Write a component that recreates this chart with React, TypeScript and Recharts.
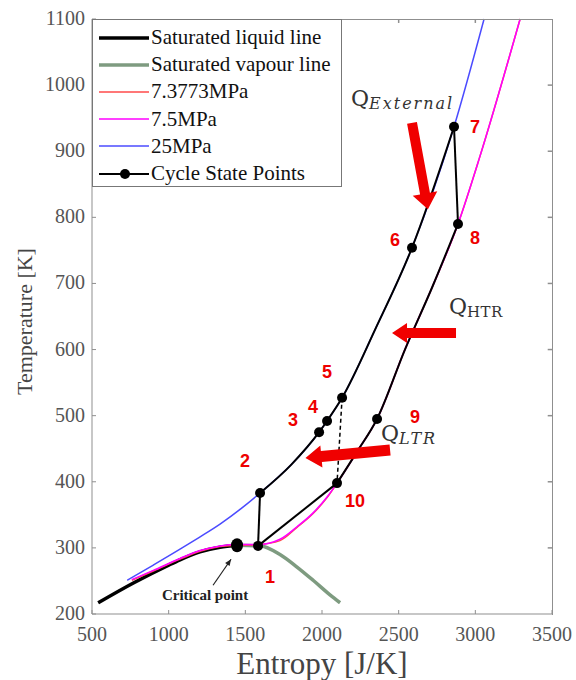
import React from 'react';
import { ComposedChart, Line, Scatter, XAxis, YAxis } from 'recharts';

const entropyTicks = [500, 1000, 1500, 2000, 2500, 3000, 3500];
const tempTicks = [200, 300, 400, 500, 600, 700, 800, 900, 1000, 1100];

// [entropy J/K, temperature K]
const satLiquidRows = [
  [540, 217], [770, 247], [1000, 274], [1074, 282], [1204, 294], [1335, 301], [1446, 304],
];
const satVapourRows = [
  [1446, 304], [1600, 303], [1726, 290], [1837, 271], [1942, 251], [2052, 229], [2118, 217],
];
const p7377Rows = [
  [760, 251], [900, 265], [1074, 283], [1204, 295], [1335, 302], [1446, 304], [1583, 305],
  [1726, 311], [1837, 331], [1942, 352], [2033, 376], [2098, 398], [2230, 446], [2359, 495],
  [2541, 600], [2720, 695], [2887, 790], [3031, 893], [3292, 1100],
];
const p75Rows = [
  [760, 252], [900, 266], [1074, 284], [1204, 296], [1335, 303], [1446, 305], [1583, 305],
  [1726, 313], [1837, 332], [1942, 353], [2033, 377], [2098, 398], [2230, 446], [2359, 495],
  [2541, 600], [2720, 695], [2887, 790], [3031, 893], [3292, 1100],
];
const p25Rows = [
  [730, 251], [900, 274], [1074, 298], [1200, 316], [1335, 336], [1470, 359], [1596, 383],
  [1800, 426], [1981, 475], [2033, 492], [2131, 527], [2350, 632], [2587, 754], [2861, 937],
  [3057, 1100],
];

const stateIds = ['1', '2', '3', '4', '5', '6', '7', '8', '9', '10'];
const stateS = [1583, 1596, 1981, 2033, 2131, 2587, 2861, 2887, 2359, 2098];
const stateT = [303, 383, 475, 492, 527, 754, 937, 790, 495, 398];
const criticalPoint = [{ s: 1446, T: 304 }];

const toPts = (rows: number[][]) => rows.map(([s, T]) => ({ s, T }));
const satLiquid = toPts(satLiquidRows);
const satVapour = toPts(satVapourRows);
const p7377 = toPts(p7377Rows);
const p75 = toPts(p75Rows);
const p25 = toPts(p25Rows);
const states = stateIds.map((id, i) => ({ id, s: stateS[i], T: stateT[i] }));
const st = (id: string) => states.find(p => p.id === id)!;

const highBranch = p25.filter(p => p.s >= st('2').s && p.s <= st('7').s);
const lowBranch = p75.filter(p => p.s >= st('10').s && p.s <= st('8').s);
const seg12 = [st('1'), st('2')];
const seg78 = [st('7'), st('8')];
const seg101 = [st('10'), st('1')];
const dash510 = [st('5'), st('10')];

const xMin = entropyTicks[0], xMax = entropyTicks[entropyTicks.length - 1];
const yMin = tempTicks[0], yMax = tempTicks[tempTicks.length - 1];

// short inward ticks on the top and right edges of the box
const topTicks = entropyTicks.slice(1, -1).map(s => [{ s, T: yMax }, { s, T: yMax - 6 }]);
const rightTicks = tempTicks.slice(1, -1).map(T => [{ s: xMax, T }, { s: xMax - 28, T }]);

// label offsets in px from each state point
const labelOffsets: Record<string, [number, number]> = {
  '1': [12, 31], '2': [-15, -32], '3': [-26, -12], '4': [-14, -14], '5': [-15, -26],
  '6': [-17, -8], '7': [21, 0], '8': [17, 14], '9': [38, -2], '10': [18, 18],
};

// heat arrows: tail position in data units, direction/size in px
const heatArrows = [
  { s: 2587, T: 943, angle: 79.6, len: 88, w: 10, hw: 25, hl: 16 },
  { s: 2874, T: 625, angle: 180, len: 64, w: 10, hw: 20, hl: 15 },
  { s: 2444, T: 448, angle: 174.6, len: 85, w: 11, hw: 22, hl: 16 },
];
const heatLabels = [
  { s: 2189, T: 968, sub: 'External', italic: true },
  { s: 2828, T: 654, sub: 'HTR', italic: false },
  { s: 2385, T: 462, sub: 'LTR', italic: true },
];

const serif = '"Liberation Serif", "Times New Roman", Times, serif';
const axisColor = '#8f8f8f';

const StateDot = (props: any) => {
  const { cx, cy, payload } = props;
  const [dx, dy] = labelOffsets[payload.id] ?? [0, 0];
  return (
    <g>
      <circle cx={cx} cy={cy} r={5} fill="#000" />
      <text x={cx + dx} y={cy + dy} textAnchor="middle" dominantBaseline="central"
        fill="#ee0000" fontSize={18} fontWeight="bold" fontFamily='"Liberation Sans", Arial, sans-serif'>
        {payload.id}
      </text>
    </g>
  );
};

const CriticalDot = (props: any) => {
  const { cx, cy } = props;
  const x1 = cx - 24, y1 = cy + 40, x2 = cx - 6, y2 = cy + 14;
  const a = Math.atan2(y2 - y1, x2 - x1);
  const h = 7;
  const head = [
    [x2, y2],
    [x2 - h * Math.cos(a - 0.4), y2 - h * Math.sin(a - 0.4)],
    [x2 - h * Math.cos(a + 0.4), y2 - h * Math.sin(a + 0.4)],
  ].map(p => p.join(',')).join(' ');
  return (
    <g>
      <ellipse cx={cx} cy={cy} rx={6} ry={7} fill="#000" />
      <line x1={x1} y1={y1} x2={x2} y2={y2} stroke="#222" strokeWidth={1.2} />
      <polygon points={head} fill="#222" />
      <text x={cx - 32} y={cy + 55} textAnchor="middle" fontSize={15} fontWeight="bold"
        fontFamily={serif} fill="#222">Critical point</text>
    </g>
  );
};

const HeatArrow = (props: any) => {
  const { cx, cy, payload } = props;
  const { angle, len, w, hw, hl } = payload;
  const r = (angle * Math.PI) / 180;
  const ux = Math.cos(r), uy = Math.sin(r);
  const nx = -uy, ny = ux;
  const at = (d: number, o: number) => `${cx + ux * d + nx * o},${cy + uy * d + ny * o}`;
  const pts = [
    at(0, w / 2), at(len - hl, w / 2), at(len - hl, hw / 2), at(len, 0),
    at(len - hl, -hw / 2), at(len - hl, -w / 2), at(0, -w / 2),
  ].join(' ');
  return <polygon points={pts} fill="#f00000" />;
};

const HeatLabel = (props: any) => {
  const { cx, cy, payload } = props;
  return (
    <text x={cx} y={cy} fill="#333">
      <tspan fontSize={22} fontFamily='"DejaVu Serif", serif'>Q</tspan>
      <tspan dy={3} fontSize={payload.italic ? 16 : 15} fontStyle={payload.italic ? 'italic' : 'normal'}
        letterSpacing={payload.italic ? 2 : 0.5} fontFamily='"DejaVu Serif", serif'>{payload.sub}</tspan>
    </text>
  );
};

const XTick = (props: any) => {
  const { x, y, payload } = props;
  return (
    <text x={x} y={y + 14} textAnchor="middle" fill="#555" fontSize={20} fontFamily={serif}>
      {payload.value}
    </text>
  );
};

const YTick = (props: any) => {
  const { x, y, payload } = props;
  return (
    <text x={x} y={y + 6} textAnchor="end" fill="#555" fontSize={20} fontFamily={serif}>
      {payload.value}
    </text>
  );
};

const legendItems = [
  { label: 'Saturated liquid line', color: '#000', width: 3.5, marker: false },
  { label: 'Saturated vapour line', color: '#7e9b80', width: 3.5, marker: false },
  { label: '7.3773MPa', color: '#ff4a4a', width: 1.5, marker: false },
  { label: '7.5MPa', color: '#ff00ff', width: 1.5, marker: false },
  { label: '25MPa', color: '#4b4bff', width: 1.5, marker: false },
  { label: 'Cycle State Points', color: '#000', width: 2, marker: true },
];

const ChartLegend = () => (
  <div style={{
    position: 'absolute', left: 92, top: 19, width: 250, height: 168, boxSizing: 'border-box',
    border: '1px solid #777', background: '#fff', paddingTop: 4,
  }}>
    {legendItems.map(item => (
      <div key={item.label} style={{ height: 27.2, display: 'flex', alignItems: 'center' }}>
        <svg width={58} height={20} style={{ flex: 'none' }}>
          <line x1={6} y1={10} x2={56} y2={10} stroke={item.color} strokeWidth={item.width} />
          {item.marker && <circle cx={32} cy={10} r={5} fill="#000" />}
        </svg>
        <span style={{ fontFamily: serif, fontSize: 21, color: '#111', whiteSpace: 'nowrap' }}>
          {item.label}
        </span>
      </div>
    ))}
  </div>
);

// top and right edges of the plot box (left/bottom come from the axes)
const PlotFrame = () => (
  <div style={{
    position: 'absolute', left: 92, top: 19, width: 461, height: 596, boxSizing: 'border-box',
    borderTop: `1px solid ${axisColor}`, borderRight: `1px solid ${axisColor}`, pointerEvents: 'none',
  }} />
);

const lineProps = { dataKey: 'T', dot: false, isAnimationActive: false, activeDot: false as const };

export default function App() {
  return (
    <div style={{ position: 'absolute', left: 0, top: 0, width: 576, height: 680, background: '#fff', fontFamily: serif }}>
      <ComposedChart width={576} height={680} margin={{ top: 19, right: 24, bottom: 0, left: 0 }}
        style={{ fontFamily: serif }}>
        <XAxis dataKey="s" type="number" domain={[xMin, xMax]} ticks={entropyTicks} interval={0}
          height={66} tickSize={-4} tickMargin={17}
          axisLine={{ stroke: axisColor }} tickLine={{ stroke: axisColor }}
          tick={<XTick />}
          label={{
            content: (p: any) => (
              <text x={p.viewBox.x + p.viewBox.width / 2} y={674} textAnchor="middle"
                fontSize={31} fontFamily={serif} fill="#444">Entropy [J/K]</text>
            ),
          }} />
        <YAxis dataKey="T" type="number" domain={[yMin, yMax]} ticks={tempTicks} interval={0}
          width={92} tickSize={-4} tickMargin={11}
          axisLine={{ stroke: axisColor }} tickLine={{ stroke: axisColor }}
          tick={<YTick />}
          label={{
            content: (p: any) => {
              const cy = p.viewBox.y + p.viewBox.height / 2 + 5;
              return (
                <text x={32} y={cy} transform={`rotate(-90 32 ${cy})`} textAnchor="middle"
                  fontSize={22} fontFamily={serif} fill="#444">Temperature [K]</text>
              );
            },
          }} />

        {topTicks.map((d, i) => (
          <Line key={`tt${i}`} {...lineProps} data={d} type="linear" stroke={axisColor} strokeWidth={1.5} />
        ))}
        {rightTicks.map((d, i) => (
          <Line key={`rt${i}`} {...lineProps} data={d} type="linear" stroke={axisColor} strokeWidth={1.5} />
        ))}

        <Line {...lineProps} data={satLiquid} type="monotone" stroke="#000" strokeWidth={3.5} />
        <Line {...lineProps} data={satVapour} type="monotone" stroke="#7e9b80" strokeWidth={3.5} />
        <Line {...lineProps} data={p7377} type="monotone" stroke="#ff4a4a" strokeWidth={1.5} />
        <Line {...lineProps} data={p75} type="monotone" stroke="#ff00ff" strokeWidth={1.5} />
        <Line {...lineProps} data={p25} type="monotone" stroke="#4b4bff" strokeWidth={1.5} />

        <Line {...lineProps} data={highBranch} type="monotone" stroke="#000" strokeWidth={2} />
        <Line {...lineProps} data={lowBranch} type="monotone" stroke="#000" strokeWidth={2} />
        <Line {...lineProps} data={seg12} type="linear" stroke="#000" strokeWidth={2} />
        <Line {...lineProps} data={seg78} type="linear" stroke="#000" strokeWidth={2} />
        <Line {...lineProps} data={seg101} type="linear" stroke="#000" strokeWidth={2} />
        <Line {...lineProps} data={dash510} type="linear" stroke="#000" strokeWidth={1.5} strokeDasharray="4 3" />

        <Scatter data={heatArrows} shape={HeatArrow} isAnimationActive={false} />
        <Scatter data={heatLabels} shape={HeatLabel} isAnimationActive={false} />
        <Scatter data={criticalPoint} shape={CriticalDot} isAnimationActive={false} />
        <Scatter data={states} shape={StateDot} isAnimationActive={false} />
      </ComposedChart>
      <PlotFrame />
      <ChartLegend />
    </div>
  );
}
